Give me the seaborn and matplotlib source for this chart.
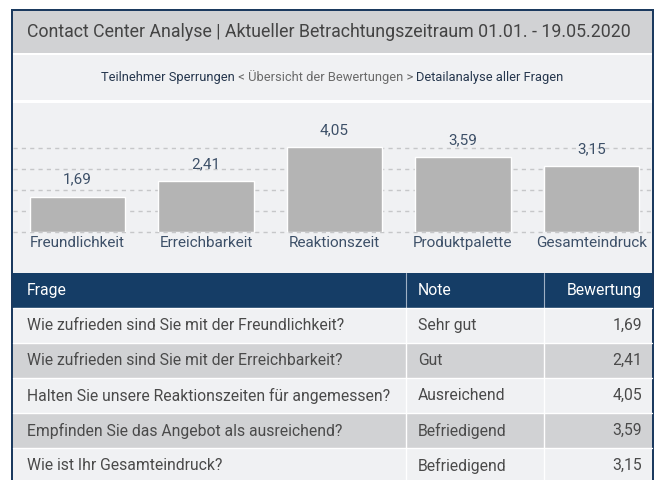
import matplotlib
matplotlib.use("Agg")
import matplotlib.pyplot as plt
import seaborn as sns
import pandas as pd
from matplotlib.patches import Rectangle

# --- data ---
categories = ["Freundlichkeit", "Erreichbarkeit", "Reaktionszeit", "Produktpalette", "Gesamteindruck"]
scores = [1.69, 2.41, 4.05, 3.59, 3.15]
questions = [
    "Wie zufrieden sind Sie mit der Freundlichkeit?",
    "Wie zufrieden sind Sie mit der Erreichbarkeit?",
    "Halten Sie unsere Reaktionszeiten für angemessen?",
    "Empfinden Sie das Angebot als ausreichend?",
    "Wie ist Ihr Gesamteindruck?",
]
grades = ["Sehr gut", "Gut", "Ausreichend", "Befriedigend", "Befriedigend"]
header = ["Frage", "Note", "Bewertung"]
title = "Contact Center Analyse | Aktueller Betrachtungszeitraum 01.01. - 19.05.2020"
crumbs = ["Teilnehmer Sperrungen", " < Übersicht der Bewertungen > ", "Detailanalyse aller Fragen"]

NAVY = "#1b3a5f"
HEAD = "#153d66"
LIGHT = "#f0f1f3"
GREY = "#d1d2d4"
BAR = "#b4b4b4"
TXT = "#3d5068"
TABLE_TXT = "#4a4a4a"
NARROW = ["Liberation Sans Narrow", "Roboto", "DejaVu Sans"]

sns.set_theme(style="white")
plt.rcParams["font.family"] = ["Roboto", "DejaVu Sans"]

W, H = 656, 480
fig = plt.figure(figsize=(W / 100, H / 100), dpi=100)
fig.patch.set_facecolor("white")

# canvas in pixel coordinates (y down)
cv = fig.add_axes([0, 0, 1, 1])
cv.set_xlim(0, W)
cv.set_ylim(H, 0)
cv.axis("off")

def box(x0, y0, x1, y1, color, z=0):
    cv.add_patch(Rectangle((x0, y0), x1 - x0, y1 - y0, facecolor=color, edgecolor="none", zorder=z))

# frame + bands
box(11, 9, 654, 480, NAVY)
box(13, 11, 652, 480, "white")
box(13, 11, 652, 53, GREY)
box(13, 55, 652, 100, LIGHT)
box(13, 103, 652, 273, LIGHT)

cv.text(27, 32, title, fontsize=12.8, color="#444444", va="center", ha="left")

# breadcrumb
t1 = cv.text(0, 77, crumbs[0], fontsize=9.3, color="#25364d", va="center", ha="left")
t2 = cv.annotate(crumbs[1], xy=(1, 0), xycoords=t1, fontsize=9.3, color="#6a6a6a",
                 va="bottom", ha="left")
t3 = cv.annotate(crumbs[2], xy=(1, 0), xycoords=t2, fontsize=9.3, color="#25364d",
                 va="bottom", ha="left")
fig.canvas.draw()
r = fig.canvas.get_renderer()
total = sum(t.get_window_extent(r).width for t in (t1, t2, t3))
t1.set_x(332.5 - total / 2)

# --- bar chart ---
px_per_unit = 21.0
base_y = 232
top_y = 104
left_px, right_px = 13.25, 655.75
ax = fig.add_axes([left_px / W, (H - base_y) / H, (right_px - left_px) / W, (base_y - top_y) / H])
ax.patch.set_alpha(0)
df = pd.DataFrame({"Kategorie": categories, "Wert": scores})
sns.barplot(data=df, x="Kategorie", y="Wert", color=BAR, width=0.74, saturation=1,
            ax=ax, zorder=3)
ax.set_xlim(-0.5, 4.5)
ax.set_ylim(0, (base_y - top_y) / px_per_unit)
for v in range(0, 5):
    ax.plot([-0.5, 4.47], [v, v], color="#c6c7c9", lw=1, ls=(0, (3, 3)), zorder=1,
            clip_on=False)
for i, v in enumerate(scores):
    ax.annotate(f"{v:.2f}".replace(".", ","), xy=(i, v), xytext=(0, 7),
                textcoords="offset points", ha="center", va="bottom",
                fontsize=11, color=TXT)
ax.set_xlabel("")
ax.set_ylabel("")
ax.set_yticks([])
ax.tick_params(axis="x", length=0, pad=3, labelsize=11, labelcolor=TXT)
sns.despine(ax=ax, left=True, bottom=True)

# --- table ---
col_x = [13, 406, 544, 652]
head_top, head_bot = 273, 308
row_h = 35
box(13, head_top, 652, head_bot, HEAD, 1)
for c in (1, 2):
    cv.plot([col_x[c], col_x[c]], [head_top, head_bot], color="#9fb0c4", lw=0.8, zorder=2)
hy = (head_top + head_bot) / 2
cv.text(27, hy, header[0], color="white", fontsize=11.3, va="center", family=NARROW, zorder=3)
cv.text(418, hy, header[1], color="white", fontsize=11.3, va="center", family=NARROW, zorder=3)
cv.text(642, hy, header[2], color="white", fontsize=11.3, va="center", ha="right",
        family=NARROW, zorder=3)

for i, (q, g, v) in enumerate(zip(questions, grades, scores)):
    y0 = head_bot + i * row_h
    y1 = min(y0 + row_h, 480)
    box(13, y0, 652, y1, GREY if i % 2 else LIGHT, 1)
    cv.plot([13, 652], [y0, y0], color="white", lw=1, zorder=2)
    for c in (1, 2):
        cv.plot([col_x[c], col_x[c]], [y0, y1], color="white", lw=1, zorder=2)
    yc = y0 + row_h / 2
    cv.text(27, yc, q, color=TABLE_TXT, fontsize=11.3, va="center", family=NARROW, zorder=3)
    cv.text(418, yc, g, color=TABLE_TXT, fontsize=11.3, va="center", family=NARROW, zorder=3)
    cv.text(642, yc, f"{v:.2f}".replace(".", ","), color=TABLE_TXT, fontsize=11.3,
            va="center", ha="right", family=NARROW, zorder=3)

fig.savefig("out.png", dpi=100)
